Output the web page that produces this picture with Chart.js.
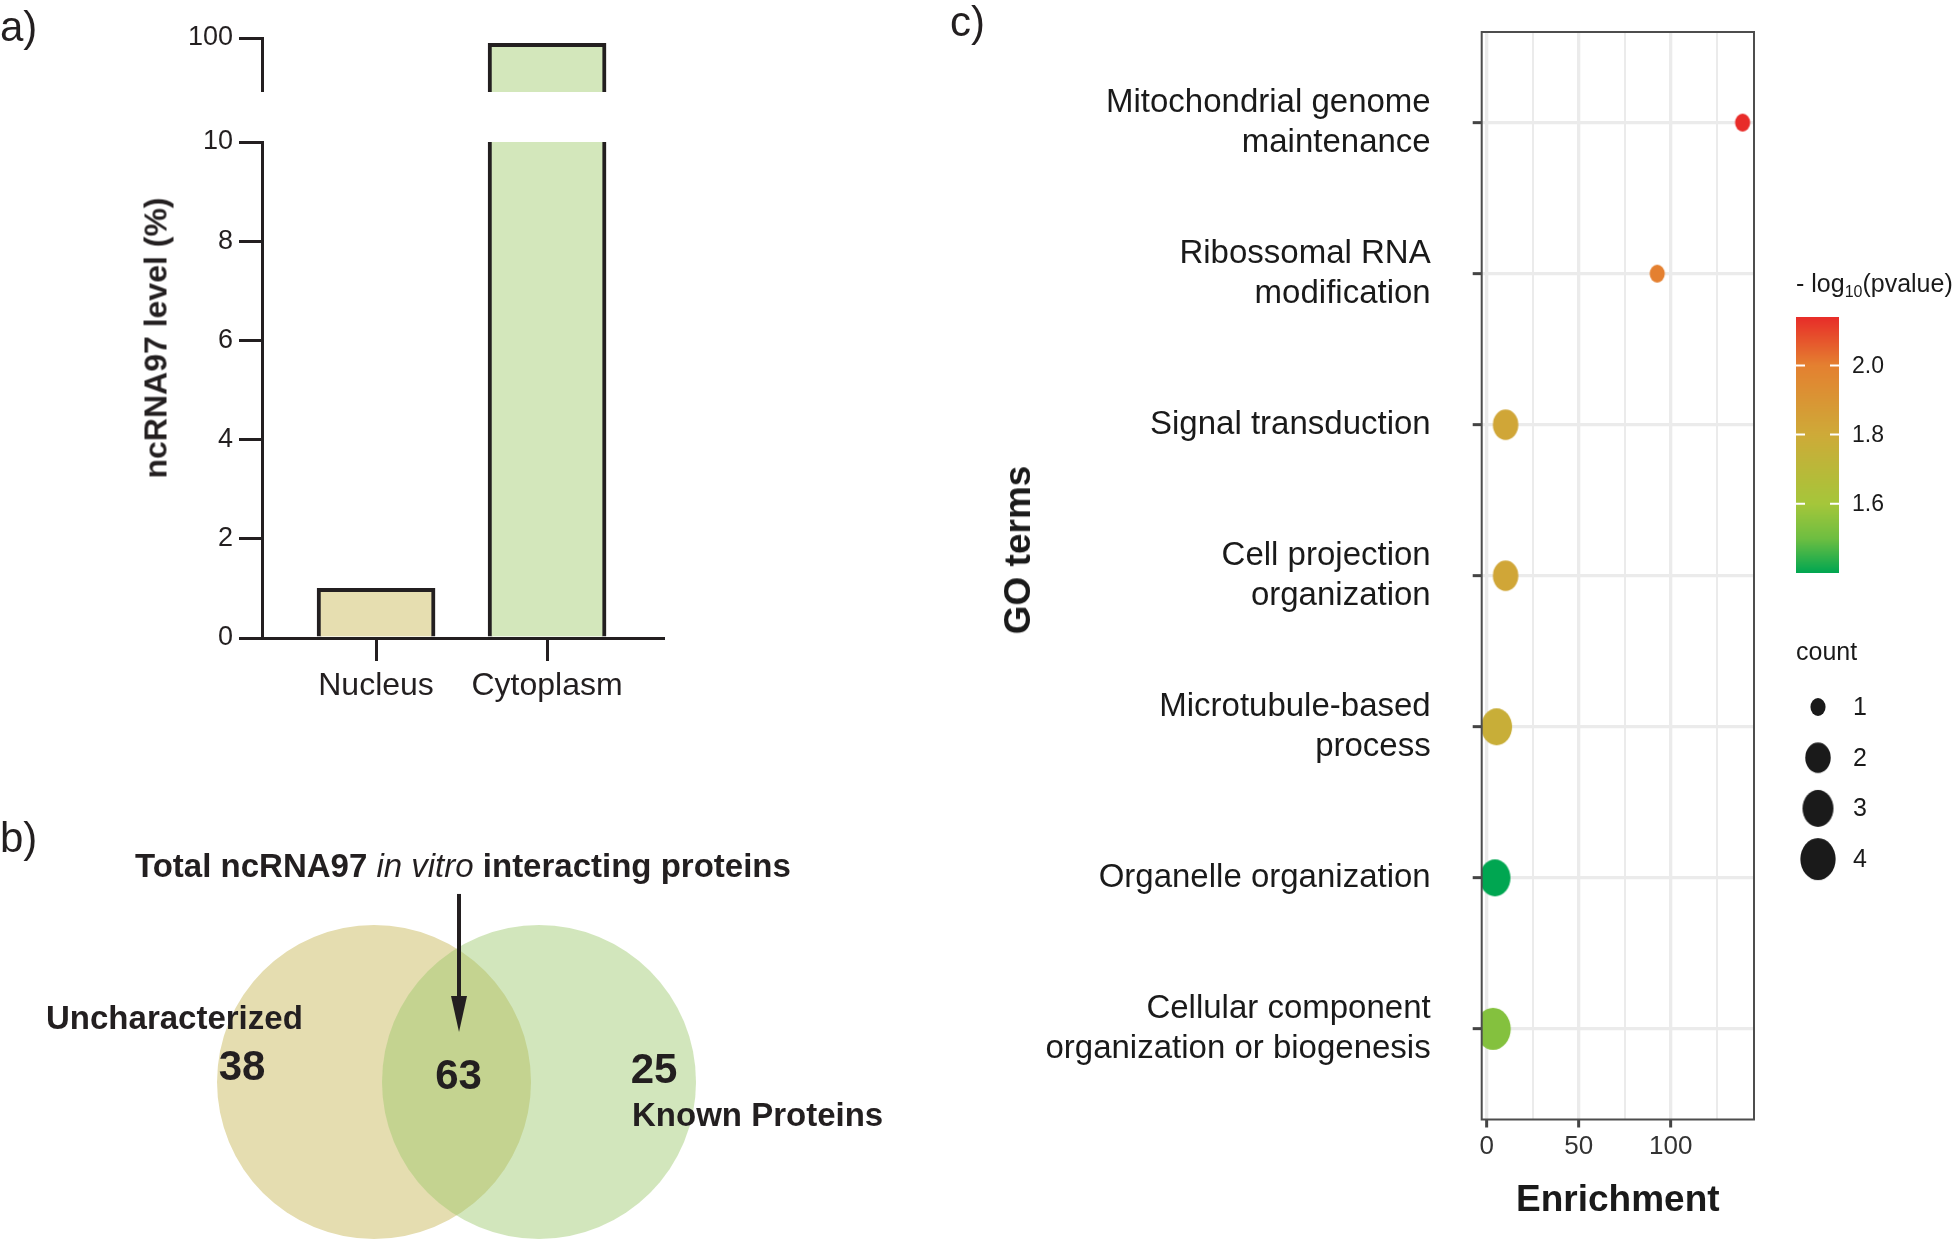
<!DOCTYPE html>
<html>
<head>
<meta charset="utf-8">
<script src="https://cdn.jsdelivr.net/npm/chart.js@4.4.1/dist/chart.umd.min.js"></script>
<style>
  html, body { margin: 0; padding: 0; background: #fff; }
  #page { position: relative; width: 1952px; height: 1240px; overflow: hidden;
          font-family: "Liberation Sans", Arial, Helvetica, sans-serif; color: #231f20; }
  #page canvas { position: absolute; }
  .lbl { position: absolute; white-space: nowrap; }
  .panel { font-size: 42px; line-height: 50px; }
  .vtitle { font-weight: bold; transform: translate(-50%, -50%) rotate(-90deg); }
</style>
</head>
<body>
<div id="page">
  <canvas id="levelLow" width="700" height="720" style="left:0;top:0"></canvas>
  <canvas id="levelHigh" width="700" height="92" style="left:0;top:0"></canvas>
  <canvas id="venn" width="900" height="520" style="left:0;top:720px"></canvas>
  <canvas id="goChart" width="1012" height="1240" style="left:940px;top:0"></canvas>

  <div class="lbl panel" style="left:0;top:2px">a)</div>
  <div class="lbl panel" style="left:0;top:813px">b)</div>
  <div class="lbl panel" style="left:950px;top:-3px">c)</div>
  <div class="lbl vtitle" style="left:156px;top:338px;font-size:32px">ncRNA97 level (%)</div>
  <div class="lbl vtitle" style="left:1018px;top:550px;font-size:37px;color:#1a1a1a">GO terms</div>
  <div class="lbl" style="left:135px;top:847px;font-weight:bold;font-size:33px;line-height:38px">Total ncRNA97 <i style="font-weight:normal">in vitro</i> interacting proteins</div>
</div>

<script>
// a) ncRNA97 distribution
const cellParts = ["Nucleus", "Cytoplasm"];
const ncrnaLevel = [1.0, 99.0];
const lowTicks = [0, 2, 4, 6, 8, 10];
const highTicks = [100];

// b) interacting proteins
const vennSets = ["Uncharacterized", "Known Proteins"];
const vennOnly = [38, 25];
const vennShared = 63;

// c) GO enrichment
const goTerms = [
  ["Mitochondrial genome", "maintenance"],
  ["Ribossomal RNA", "modification"],
  "Signal transduction",
  ["Cell projection", "organization"],
  ["Microtubule-based", "process"],
  "Organelle organization",
  ["Cellular component", "organization or biogenesis"]
];
const enrichment = [139.1, 92.7, 10.3, 10.3, 5.4, 4.5, 3.5];
const geneCount = [1, 1, 2, 2, 3, 3, 4];
const logP = [2.14, 2.00, 1.82, 1.82, 1.77, 1.40, 1.54];
const enrichTicks = [0, 25, 50, 75, 100, 125];
const enrichLabels = [0, 50, 100];
const pvalTicks = [1.6, 1.8, 2.0];
const countKeys = [1, 2, 3, 4];

const ink = "#231f20";
const fontFam = "'Liberation Sans', Arial, Helvetica, sans-serif";
Chart.defaults.font.family = fontFam;
Chart.defaults.color = ink;

// ---------- a) two stacked charts make the broken axis ----------
function levelChart(id, yMin, yMax, yTicks, padTop, withAxis) {
  const x = {
    type: "linear", min: 0.333, max: 2.678, display: withAxis, offset: false,
    afterBuildTicks: s => { s.ticks = cellParts.map((c, i) => ({ value: i + 1 })); },
    grid: { offset: false, drawOnChartArea: false, color: ink, lineWidth: 3, tickLength: 23 },
    border: { color: ink, width: 3 },
    ticks: { callback: v => cellParts[v - 1], font: { size: 32 }, color: ink, padding: 6, maxRotation: 0, autoSkip: false }
  };
  if (withAxis) x.afterFit = s => { s.height = 82; s.paddingLeft = 0; s.paddingRight = 0; };

  return new Chart(document.getElementById(id), {
    type: "bar",
    data: {
      datasets: [{
        data: ncrnaLevel.map((v, i) => ({ x: i + 1, y: v })),
        backgroundColor: ["#e6deb0", "#d3e7bb"],
        borderColor: ink,
        borderWidth: 4,
        borderSkipped: "start",
        barThickness: 118,
        clip: 0
      }]
    },
    options: {
      responsive: false, animation: false, events: [],
      layout: { padding: { top: padTop, right: 37, left: 0, bottom: 0 }, autoPadding: false },
      plugins: { legend: { display: false }, tooltip: { enabled: false } },
      scales: {
        x: x,
        y: {
          min: yMin, max: yMax,
          afterBuildTicks: s => { s.ticks = yTicks.map(v => ({ value: v })); },
          afterFit: s => { s.width = 262; s.paddingTop = 0; s.paddingBottom = 0; },
          grid: { drawOnChartArea: false, color: ink, lineWidth: 3, tickLength: 23 },
          border: { color: ink, width: 3 },
          ticks: { font: { size: 27 }, color: ink, padding: 6 }
        }
      }
    }
  });
}
levelChart("levelLow", 0, 10, lowTicks, 142, true);
levelChart("levelHigh", 90, 100, highTicks, 38, false);

// ---------- b) Venn ----------
const vennText = {
  id: "vennText",
  afterDatasetsDraw(chart) {
    const { ctx, scales: { x, y } } = chart;
    const lx = x.getPixelForValue(0), rx = x.getPixelForValue(1), cy = y.getPixelForValue(0);
    const mx = (lx + rx) / 2;
    ctx.save();
    ctx.fillStyle = ink;
    ctx.textBaseline = "middle";
    ctx.textAlign = "center";
    ctx.font = "bold 42px " + fontFam;
    ctx.fillText(String(vennOnly[0]), lx - 132, cy - 14);
    ctx.fillText(String(vennShared), mx + 2, cy - 5);
    ctx.fillText(String(vennOnly[1]), rx + 115, cy - 11);
    ctx.textAlign = "left";
    ctx.font = "bold 33px " + fontFam;
    ctx.fillText(vennSets[0], lx - 328, cy - 62);
    ctx.fillText(vennSets[1], rx + 93, cy + 35);

    // arrow from the title into the shared part
    const ax = mx + 2.5;
    ctx.strokeStyle = ink;
    ctx.lineWidth = 4;
    ctx.beginPath();
    ctx.moveTo(ax, cy - 188);
    ctx.lineTo(ax, cy - 84);
    ctx.stroke();
    ctx.beginPath();
    ctx.moveTo(ax - 8, cy - 86);
    ctx.lineTo(ax + 8, cy - 86);
    ctx.lineTo(ax, cy - 50);
    ctx.closePath();
    ctx.fill();
    ctx.restore();
  }
};

new Chart(document.getElementById("venn"), {
  type: "scatter",
  data: {
    datasets: [{
      data: vennSets.map((s, i) => ({ x: i, y: 0 })),
      pointRadius: 157,
      pointBorderWidth: 0,
      pointBackgroundColor: ["#e5ddb0", "rgba(155,199,106,0.45)"],
      clip: false
    }]
  },
  options: {
    responsive: false, animation: false, events: [],
    layout: { padding: 0, autoPadding: false },
    plugins: { legend: { display: false }, tooltip: { enabled: false } },
    scales: {
      x: { display: false, min: -2.267, max: 3.188 },
      y: { display: false, min: -0.958, max: 2.194 }
    }
  },
  plugins: [vennText]
});

// ---------- c) GO terms ----------
const colorStops = [
  [1.40, [0, 166, 81]],
  [1.50, [110, 190, 65]],
  [1.60, [165, 198, 58]],
  [1.80, [206, 170, 56]],
  [2.00, [228, 128, 48]],
  [2.15, [232, 38, 40]]
];
function pColor(v) {
  if (v <= colorStops[0][0]) return "rgb(" + colorStops[0][1].join(",") + ")";
  for (let i = 1; i < colorStops.length; i++) {
    const [v1, c1] = colorStops[i];
    const [v0, c0] = colorStops[i - 1];
    if (v <= v1) {
      const t = (v - v0) / (v1 - v0);
      return "rgb(" + c0.map((c, k) => Math.round(c + (c1[k] - c) * t)).join(",") + ")";
    }
  }
  return "rgb(" + colorStops[colorStops.length - 1][1].join(",") + ")";
}
// size scale: area grows with count (like scale_size)
function dotHeight(n) { return 13.2 + 4.8 * Math.sqrt(1 + (n - 1) * 35 / 3); }
function ellipseDot(color, h) {
  const w = h * 0.84;
  const c = document.createElement("canvas");
  c.width = Math.ceil(w) + 2;
  c.height = Math.ceil(h) + 2;
  const g = c.getContext("2d");
  g.fillStyle = color;
  g.beginPath();
  g.ellipse(c.width / 2, c.height / 2, w / 2, h / 2, 0, 0, Math.PI * 2);
  g.fill();
  return c;
}

const goExtras = {
  id: "goExtras",
  afterDatasetsDraw(chart) {
    const { ctx, chartArea: a } = chart;
    ctx.save();
    ctx.strokeStyle = "#4d4d4d";
    ctx.lineWidth = 2;
    ctx.strokeRect(a.left, a.top, a.right - a.left, a.bottom - a.top);
    ctx.restore();
  },
  afterDraw(chart) {
    const { ctx, chartArea: a } = chart;
    const L = a.right + 42;
    ctx.save();
    ctx.fillStyle = "#1a1a1a";
    ctx.textBaseline = "alphabetic";
    ctx.textAlign = "left";

    // colour bar title: - log10(pvalue)
    ctx.font = "25px " + fontFam;
    let tx = L;
    ctx.fillText("- log", tx, 292);
    tx += ctx.measureText("- log").width;
    ctx.font = "16px " + fontFam;
    ctx.fillText("10", tx, 297);
    tx += ctx.measureText("10").width;
    ctx.font = "25px " + fontFam;
    ctx.fillText("(pvalue)", tx, 292);

    // colour bar
    const vMax = Math.max(...logP), vMin = Math.min(...logP);
    const top = 317, H = 256, W = 43;
    for (let yy = 0; yy < H; yy++) {
      ctx.fillStyle = pColor(vMax - (yy + 0.5) / H * (vMax - vMin));
      ctx.fillRect(L, top + yy, W, 1);
    }
    ctx.strokeStyle = "#fff";
    ctx.lineWidth = 2;
    ctx.fillStyle = "#1a1a1a";
    ctx.font = "23px " + fontFam;
    ctx.textBaseline = "middle";
    pvalTicks.forEach(v => {
      const py = top + (vMax - v) / (vMax - vMin) * H;
      ctx.beginPath();
      ctx.moveTo(L, py); ctx.lineTo(L + 9, py);
      ctx.moveTo(L + W - 9, py); ctx.lineTo(L + W, py);
      ctx.stroke();
      ctx.fillText(v.toFixed(1), L + W + 13, py + 1);
    });

    // size legend
    ctx.font = "25px " + fontFam;
    ctx.fillText("count", L, 653);
    countKeys.forEach((n, i) => {
      const py = 707 + i * 50.7;
      const img = ellipseDot("#1a1a1a", dotHeight(n));
      ctx.drawImage(img, L + 22 - img.width / 2, py - img.height / 2);
      ctx.fillText(String(n), L + 57, py + 1);
    });
    ctx.restore();
  }
};

new Chart(document.getElementById("goChart"), {
  type: "scatter",
  data: {
    datasets: [{
      data: enrichment.map((e, i) => ({ x: e, y: i })),
      pointStyle: geneCount.map((n, i) => ellipseDot(pColor(logP[i]), dotHeight(n))),
      pointRadius: geneCount.map(n => dotHeight(n) / 2),
      clip: 0
    }]
  },
  options: {
    responsive: false, animation: false, events: [],
    layout: { padding: { top: 32, right: 198, left: 0, bottom: 0 }, autoPadding: false },
    plugins: { legend: { display: false }, tooltip: { enabled: false } },
    scales: {
      x: {
        type: "linear", min: -2.7, max: 145.3,
        afterBuildTicks: s => { s.ticks = enrichTicks.map(v => ({ value: v })); },
        afterFit: s => { s.height = 120.5; s.paddingLeft = 0; s.paddingRight = 0; },
        grid: {
          color: "#ebebeb",
          lineWidth: c => enrichLabels.includes(c.tick.value) ? 3.3 : 2,
          tickColor: c => enrichLabels.includes(c.tick.value) ? "#444" : "rgba(0,0,0,0)",
          tickWidth: 3,
          tickLength: 8
        },
        border: { display: false },
        ticks: {
          callback: v => enrichLabels.includes(v) ? String(v) : "",
          font: { size: 26 }, color: "#333", padding: 4, maxRotation: 0, autoSkip: false
        },
        title: {
          display: true, text: "Enrichment", color: "#1a1a1a",
          font: { size: 37, weight: "bold" }, padding: { top: 0, bottom: 17 }
        }
      },
      y: {
        type: "linear", reverse: true, min: -0.6, max: 6.6,
        afterBuildTicks: s => { s.ticks = goTerms.map((t, i) => ({ value: i })); },
        afterFit: s => { s.width = 541.7; s.paddingTop = 0; s.paddingBottom = 0; },
        grid: { color: "#ebebeb", lineWidth: 3.3, tickColor: "#444", tickWidth: 3, tickLength: 9 },
        border: { display: false },
        ticks: { callback: v => goTerms[v], font: { size: 33 }, color: "#1a1a1a", padding: 42, autoSkip: false }
      }
    }
  },
  plugins: [goExtras]
});
</script>
</body>
</html>
